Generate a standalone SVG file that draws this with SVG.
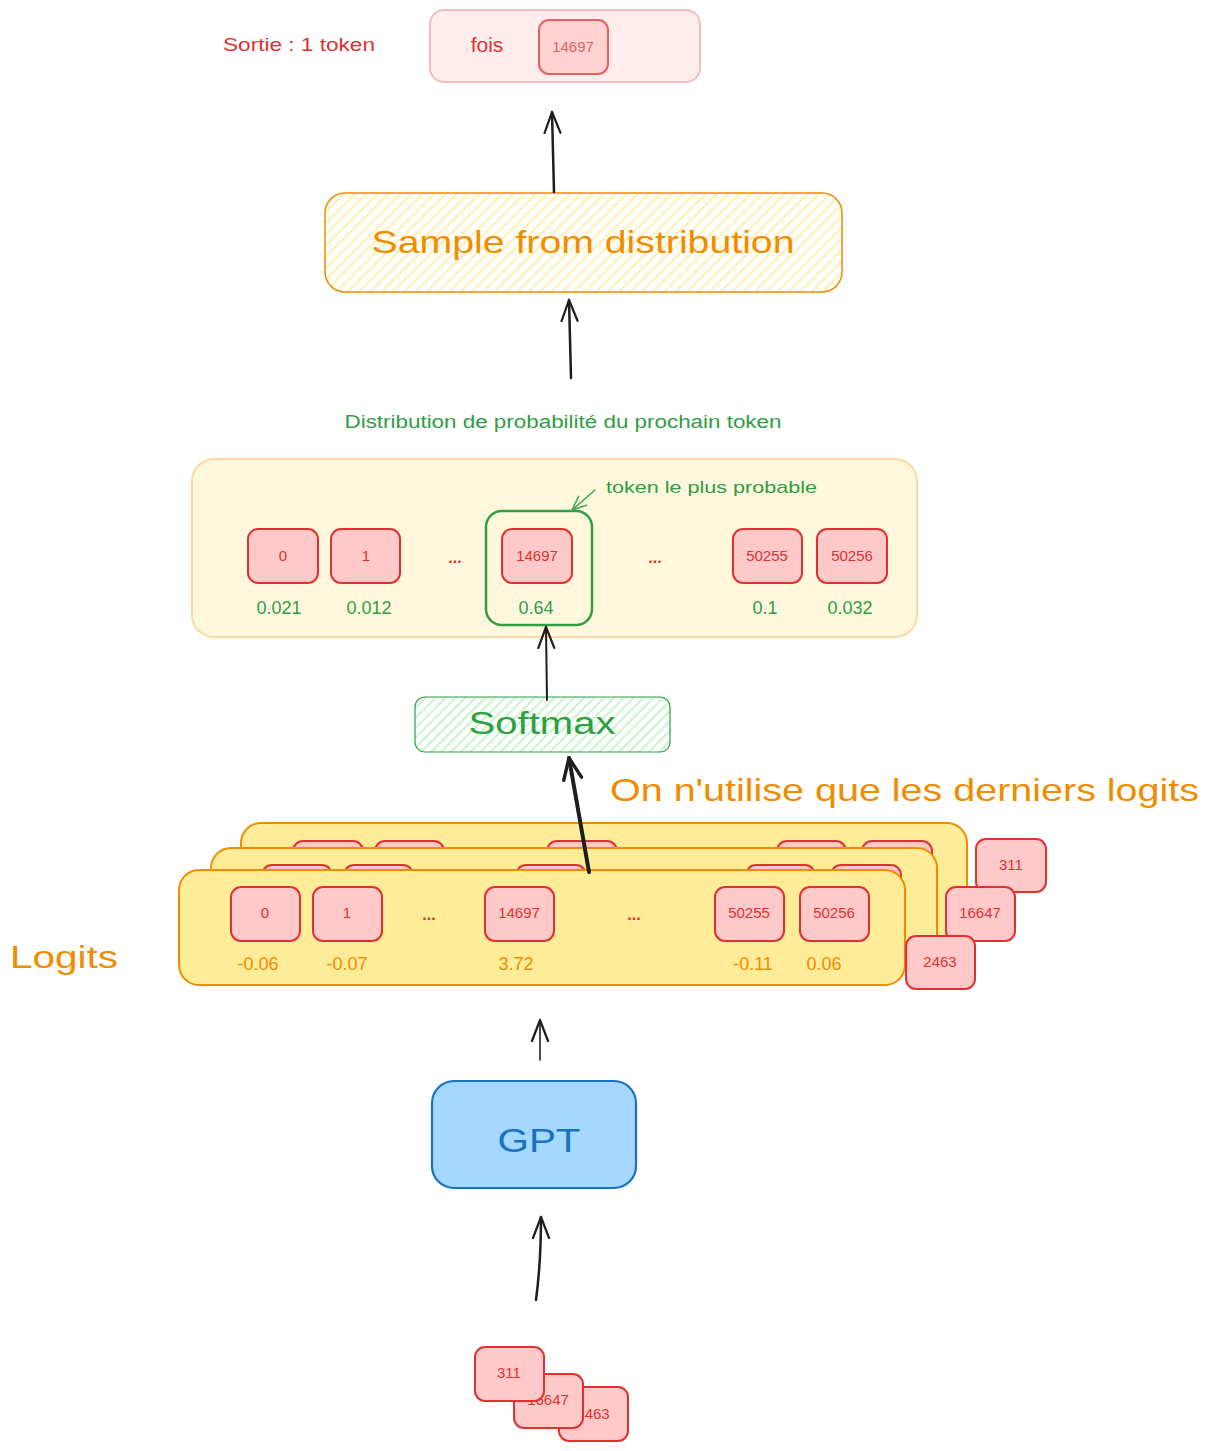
<svg xmlns="http://www.w3.org/2000/svg" width="1209" height="1451" viewBox="0 0 1209 1451">
<defs>
  <pattern id="hatchY" patternUnits="userSpaceOnUse" width="8" height="8" patternTransform="rotate(-45)">
    <rect width="8" height="8" fill="#ffffff"/>
    <line x1="0" y1="4" x2="8" y2="4" stroke="#ffec99" stroke-width="1.5"/>
  </pattern>
  <pattern id="hatchG" patternUnits="userSpaceOnUse" width="7" height="7" patternTransform="rotate(-45)">
    <rect width="7" height="7" fill="#ffffff"/>
    <line x1="0" y1="3.5" x2="7" y2="3.5" stroke="#b2f2bb" stroke-width="1.5"/>
  </pattern>
  <marker id="arr" viewBox="0 0 24 20" refX="22" refY="10" markerWidth="24" markerHeight="20" markerUnits="userSpaceOnUse" orient="auto">
    <path d="M1,2 L22,10 L1,18" fill="none" stroke="#1e1e1e" stroke-width="2.2" stroke-linecap="round" stroke-linejoin="round"/>
  </marker>
  <marker id="arrThick" viewBox="0 0 26 22" refX="23" refY="11" markerWidth="26" markerHeight="22" markerUnits="userSpaceOnUse" orient="auto">
    <path d="M2,2 L23,11 L2,20" fill="none" stroke="#1e1e1e" stroke-width="3.4" stroke-linecap="round" stroke-linejoin="round"/>
  </marker>
  <marker id="arrG" viewBox="0 0 16 14" refX="15" refY="7" markerWidth="16" markerHeight="14" markerUnits="userSpaceOnUse" orient="auto">
    <path d="M1,1 L15,7 L1,13" fill="none" stroke="#40a957" stroke-width="1.6" stroke-linecap="round" stroke-linejoin="round"/>
  </marker>
</defs>
<style>
  text { font-family: "Liberation Sans", Arial, sans-serif; }
  .tok { fill: #ffc9c9; stroke: #e03131; stroke-width: 2; }
  .tt { fill: #e03131; font-size: 15px; text-anchor: middle; }
  .layer { fill: #ffec99; stroke: #f08c00; stroke-width: 2; }
  .gv { fill: #2f9e44; font-size: 18px; text-anchor: middle; }
  .ov { fill: #f08c00; font-size: 18px; text-anchor: middle; }
  .dots { fill: #e03131; font-size: 16px; text-anchor: middle; font-weight: bold; }
  .conn { fill: none; stroke: #1e1e1e; stroke-linecap: round; }
</style>

<rect width="1209" height="1451" fill="#ffffff"/>

<!-- Output -->
<g id="sortie-label">
  <text x="223" y="51" font-size="18" fill="#e03131" textLength="152" lengthAdjust="spacingAndGlyphs">Sortie : 1 token</text>
</g>
<g id="output">
  <rect x="430" y="10" width="270" height="72" rx="14" fill="#ffeded" stroke="#f4bcc0" stroke-width="2"/>
  <text x="487" y="52" font-size="21" fill="#e03131" text-anchor="middle">fois</text>
  <g opacity="0.75">
    <rect x="539" y="20" width="69" height="54" rx="10" class="tok"/>
    <text x="573" y="52" class="tt">14697</text>
  </g>
</g>

<!-- Sample -->
<g id="sample">
  <rect x="325" y="193" width="517" height="99" rx="20" fill="url(#hatchY)" stroke="#f08c00" stroke-width="1.5"/>
  <text x="583" y="253" font-size="32" fill="#f08c00" text-anchor="middle" textLength="423" lengthAdjust="spacingAndGlyphs">Sample from distribution</text>
</g>

<g id="dist-label">
  <text x="563" y="428" font-size="18" fill="#2f9e44" text-anchor="middle" textLength="437" lengthAdjust="spacingAndGlyphs">Distribution de probabilité du prochain token</text>
</g>

<!-- Distribution -->
<g id="distribution">
  <rect x="192" y="459" width="725" height="178" rx="22" fill="#fff8dd" stroke="#fbd9a3" stroke-width="2"/>
  <rect x="248" y="529" width="70" height="54" rx="10" class="tok"/>
  <text x="283" y="561" class="tt">0</text>
  <rect x="331" y="529" width="69" height="54" rx="10" class="tok"/>
  <text x="366" y="561" class="tt">1</text>
  <text x="455" y="563" class="dots">...</text>
  <rect x="502" y="529" width="70" height="54" rx="10" class="tok"/>
  <text x="537" y="561" class="tt">14697</text>
  <text x="655" y="563" class="dots">...</text>
  <rect x="733" y="529" width="69" height="54" rx="10" class="tok"/>
  <text x="767" y="561" class="tt">50255</text>
  <rect x="817" y="529" width="70" height="54" rx="10" class="tok"/>
  <text x="852" y="561" class="tt">50256</text>
  <text x="279" y="614" class="gv">0.021</text>
  <text x="369" y="614" class="gv">0.012</text>
  <text x="536" y="614" class="gv">0.64</text>
  <text x="765" y="614" class="gv">0.1</text>
  <text x="850" y="614" class="gv">0.032</text>
</g>
<g id="highlight">
  <rect x="486" y="511" width="106" height="114" rx="16" fill="none" stroke="#2f9e44" stroke-width="2.5"/>
</g>
<g id="highlight-label">
  <text x="606" y="493" font-size="17" fill="#2f9e44" textLength="211" lengthAdjust="spacingAndGlyphs">token le plus probable</text>
</g>

<!-- Softmax -->
<g id="softmax">
  <rect x="415" y="697" width="255" height="55" rx="10" fill="url(#hatchG)" stroke="#2f9e44" stroke-width="1.2"/>
  <text x="542" y="734" font-size="31" fill="#2f9e44" text-anchor="middle" textLength="147" lengthAdjust="spacingAndGlyphs">Softmax</text>
</g>

<g id="note">
  <text x="610" y="801" font-size="32" fill="#f08c00" textLength="589" lengthAdjust="spacingAndGlyphs">On n'utilise que les derniers logits</text>
</g>

<!-- Logits stack -->
<g id="logits-back">
  <rect x="241" y="823" width="726" height="115" rx="20" class="layer"/>
  <rect x="293" y="841" width="70" height="54" rx="10" class="tok"/>
  <rect x="375" y="841" width="69" height="54" rx="10" class="tok"/>
  <rect x="547" y="841" width="70" height="54" rx="10" class="tok"/>
  <rect x="777" y="841" width="69" height="54" rx="10" class="tok"/>
  <rect x="862" y="841" width="70" height="54" rx="10" class="tok"/>
</g>
<g id="logits-middle">
  <rect x="211" y="848" width="726" height="115" rx="20" class="layer"/>
  <rect x="262" y="865" width="70" height="54" rx="10" class="tok"/>
  <rect x="344" y="865" width="69" height="54" rx="10" class="tok"/>
  <rect x="516" y="865" width="70" height="54" rx="10" class="tok"/>
  <rect x="746" y="865" width="69" height="54" rx="10" class="tok"/>
  <rect x="831" y="865" width="70" height="54" rx="10" class="tok"/>
</g>
<g id="logits-front">
  <rect x="179" y="870" width="726" height="115" rx="20" class="layer"/>
  <rect x="231" y="887" width="69" height="54" rx="10" class="tok"/>
  <text x="265" y="918" class="tt">0</text>
  <rect x="313" y="887" width="69" height="54" rx="10" class="tok"/>
  <text x="347" y="918" class="tt">1</text>
  <text x="429" y="920" class="dots">...</text>
  <rect x="485" y="887" width="69" height="54" rx="10" class="tok"/>
  <text x="519" y="918" class="tt">14697</text>
  <text x="634" y="920" class="dots">...</text>
  <rect x="715" y="887" width="69" height="54" rx="10" class="tok"/>
  <text x="749" y="918" class="tt">50255</text>
  <rect x="800" y="887" width="69" height="54" rx="10" class="tok"/>
  <text x="834" y="918" class="tt">50256</text>
  <text x="258" y="970" class="ov">-0.06</text>
  <text x="347" y="970" class="ov">-0.07</text>
  <text x="516" y="970" class="ov">3.72</text>
  <text x="753" y="970" class="ov">-0.11</text>
  <text x="824" y="970" class="ov">0.06</text>
</g>
<g id="side-tokens">
  <rect x="976" y="839" width="70" height="53" rx="10" class="tok"/>
  <text x="1011" y="870" class="tt">311</text>
  <rect x="946" y="887" width="69" height="54" rx="10" class="tok"/>
  <text x="980" y="918" class="tt">16647</text>
  <rect x="906" y="936" width="69" height="53" rx="10" class="tok"/>
  <text x="940" y="967" class="tt">2463</text>
</g>
<g id="logits-label">
  <text x="10" y="968" font-size="32" fill="#f08c00" textLength="108" lengthAdjust="spacingAndGlyphs">Logits</text>
</g>

<!-- GPT -->
<g id="gpt">
  <rect x="432" y="1081" width="204" height="107" rx="22" fill="#a5d8ff" stroke="#1971c2" stroke-width="2.2"/>
  <text x="539" y="1152" font-size="34" fill="#1971c2" text-anchor="middle" textLength="83" lengthAdjust="spacingAndGlyphs">GPT</text>
</g>

<!-- Input tokens -->
<g id="input-tokens">
  <rect x="559" y="1387" width="69" height="54" rx="10" class="tok"/>
  <text x="593" y="1419" class="tt">2463</text>
  <rect x="514" y="1374" width="69" height="54" rx="10" class="tok"/>
  <text x="548" y="1405" class="tt">16647</text>
  <rect x="475" y="1347" width="69" height="54" rx="10" class="tok"/>
  <text x="509" y="1378" class="tt">311</text>
</g>

<!-- Connectors -->
<g id="connectors">
  <path class="conn" d="M554,192 L552,112" stroke-width="2.5" marker-end="url(#arr)"/>
  <path class="conn" d="M571,378 L569,300" stroke-width="2.5" marker-end="url(#arr)"/>
  <path class="conn" d="M547,700 L546,627" stroke-width="2" marker-end="url(#arr)"/>
  <path d="M595,490 L572,510" fill="none" stroke="#40a957" stroke-width="1.6" stroke-linecap="round" marker-end="url(#arrG)"/>
  <path class="conn" d="M589,872 L569,758" stroke-width="4" marker-end="url(#arrThick)"/>
  <path class="conn" d="M540,1060 L540,1020" stroke-width="1.6" marker-end="url(#arr)"/>
  <path class="conn" d="M536,1300 C540,1270 541,1245 541,1217" stroke-width="2.5" marker-end="url(#arr)"/>
</g>
</svg>
